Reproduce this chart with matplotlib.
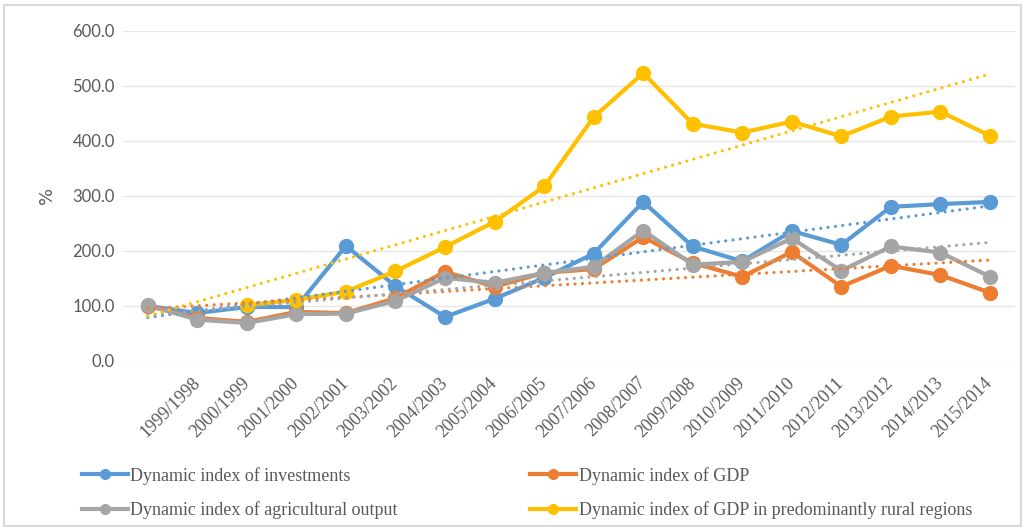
import numpy as np
import matplotlib
matplotlib.use('Agg')
import matplotlib.pyplot as plt
from matplotlib.patches import Rectangle

# first category has no label in the source chart
periods = ['', '1999/1998', '2000/1999', '2001/2000', '2002/2001', '2003/2002', '2004/2003',
           '2005/2004', '2006/2005', '2007/2006', '2008/2007', '2009/2008', '2010/2009',
           '2011/2010', '2012/2011', '2013/2012', '2014/2013', '2015/2014']

investments = [100, 87, 98, 98, 209, 136, 80, 113, 151, 195, 289, 208, 181, 236, 211, 280, 285, 289]
gdp = [100, 78, 71, 89, 87, 114, 162, 135, 160, 167, 225, 178, 153, 198, 135, 173, 156, 124]
agri = [101, 75, 69, 85, 86, 109, 151, 142, 160, 171, 237, 175, 180, 223, 164, 208, 197, 153]
rural = [np.nan, np.nan, 101, 111, 126, 163, 207, 253, 317, 443, 523, 431, 415, 435, 408, 444, 453, 409]

names = ['Dynamic index of investments', 'Dynamic index of GDP',
         'Dynamic index of agricultural output', 'Dynamic index of GDP in predominantly rural regions']
colors = ['#5B9BD5', '#ED7D31', '#A5A5A5', '#FFC000']
values = [investments, gdp, agri, rural]

fig = plt.figure(figsize=(10.25, 5.3), dpi=100)
ax = fig.add_axes([0.12, 0.319, 0.870, 0.623])

x = np.arange(len(periods))
handles = []
for i, (name, vals, col) in enumerate(zip(names, values, colors)):
    y = np.array(vals, dtype=float)
    h, = ax.plot(x, y, color=col, lw=3, marker='o', ms=10, zorder=3 + i,
                 solid_joinstyle='round', label=name)
    handles.append(h)
    # linear trend like excel, drawn over the whole category range
    ok = ~np.isnan(y)
    k, b = np.polyfit(x[ok], y[ok], 1)
    ax.plot(x, k * x + b, color=col, lw=2.3, ls=(0, (0.01, 2.3)),
            dash_capstyle='round', zorder=8)

ax.set_xlim(-0.5, len(periods) - 0.5)
ax.set_ylim(0, 600)
ax.set_yticks(np.arange(0, 601, 100))
ax.set_yticklabels(['%.1f' % v for v in np.arange(0, 601, 100)],
                   fontsize=12, color='#595959', family='Lato')
ax.set_xticks(x)
ax.set_xticklabels(periods, rotation=45, ha='right', va='center', rotation_mode='anchor',
                   fontsize=13, color='#595959', family='Liberation Serif')
ax.tick_params(axis='y', length=0, pad=6)
ax.tick_params(axis='x', length=0, pad=14)
ax.grid(axis='y', color='#E6E6E6', lw=1)
ax.set_axisbelow(True)
for s in ax.spines.values():
    s.set_visible(False)
ax.set_ylabel('%', fontsize=13, color='#595959', labelpad=12)

# excel order: fill row by row
order = [0, 2, 1, 3]
leg = fig.legend(handles=[handles[i] for i in order], labels=[names[i] for i in order],
                 ncol=2, loc='upper left', bbox_to_anchor=(0.08, 0.119), frameon=False,
                 columnspacing=7.35, handlelength=2.55, handletextpad=0.12, labelspacing=0.9,
                 borderpad=0, borderaxespad=0,
                 prop={'family': 'Liberation Serif', 'size': 13})
for t in leg.get_texts():
    t.set_color('#595959')
for lh in leg.legend_handles:
    lh.set_markersize(7)

fig.patches.append(Rectangle((0.004, 0.008), 0.992, 0.982, transform=fig.transFigure,
                             fill=False, edgecolor='#D9D9D9', lw=1.5))

fig.savefig('out.png', dpi=100)
